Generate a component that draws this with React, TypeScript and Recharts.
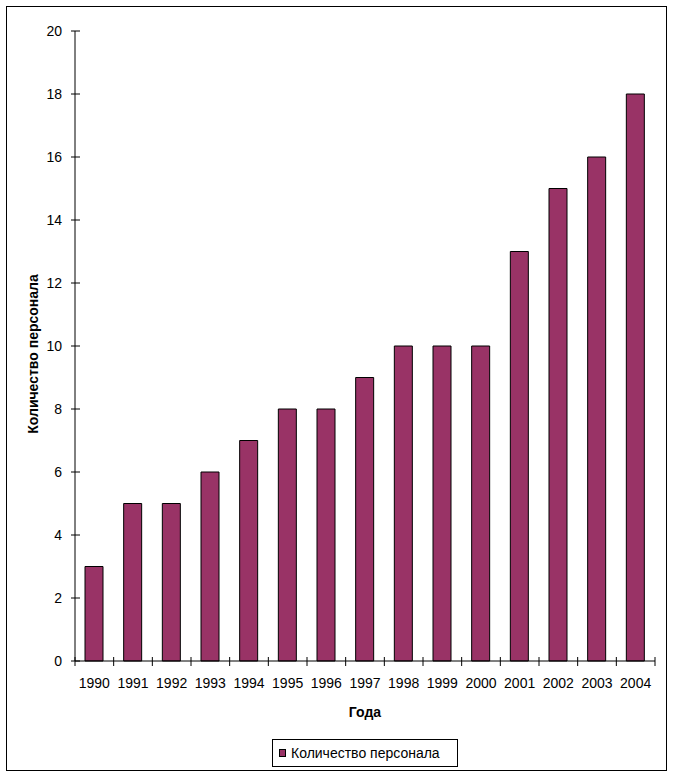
import React from 'react';
import { BarChart, Bar, XAxis, YAxis } from 'recharts';

const years = ['1990', '1991', '1992', '1993', '1994', '1995', '1996', '1997', '1998', '1999', '2000', '2001', '2002', '2003', '2004'];
const staff = [3, 5, 5, 6, 7, 8, 8, 9, 10, 10, 10, 13, 15, 16, 18];
const yTicks = [0, 2, 4, 6, 8, 10, 12, 14, 16, 18, 20];

const seriesName = 'Количество персонала';
const xTitle = 'Года';
const yTitle = 'Количество персонала';

const FONT = '"Liberation Sans", Arial, sans-serif';
const BAR_COLOR = '#993366';

const data = years.map((year, i) => ({ year, value: staff[i] }));

const YTick = (props: any) => {
  const { x, y, payload } = props;
  return (
    <g>
      <line x1={x - 4} x2={x + 5} y1={y} y2={y} stroke="#000" />
      <text x={x - 13} y={y + 5} textAnchor="end" fontSize={14} fontFamily={FONT} fill="#000">
        {payload.value}
      </text>
    </g>
  );
};

const XTick = (props: any) => {
  const { x, y, payload, index } = props;
  const half = payload.offset ?? 580 / years.length / 2;
  return (
    <g>
      <line x1={x - half} x2={x - half} y1={y - 4} y2={y + 5} stroke="#000" />
      {index === years.length - 1 && <line x1={x + half} x2={x + half} y1={y - 4} y2={y + 5} stroke="#000" />}
      <text x={x} y={y + 27} textAnchor="middle" fontSize={14} fontFamily={FONT} fill="#000">
        {payload.value}
      </text>
    </g>
  );
};

export default function App() {
  return (
    <div style={{ position: 'absolute', left: 0, top: 0, width: 674, height: 778, background: '#fff', fontFamily: FONT }}>
      <BarChart
        width={674}
        height={778}
        data={data}
        margin={{ top: 31, right: 19, bottom: 0, left: 0 }}
      >
        <XAxis xAxisId="top" orientation="top" dataKey="year" height={0} tick={false} tickLine={false} axisLine={{ stroke: '#808080' }} />
        <YAxis yAxisId="right" orientation="right" width={0} domain={[0, 20]} tick={false} tickLine={false} axisLine={{ stroke: '#808080' }} />
        <XAxis
          dataKey="year"
          height={117}
          interval={0}
          tickSize={0}
          tickMargin={0}
          tickLine={false}
          axisLine={{ stroke: '#000' }}
          tick={<XTick />}
        />
        <YAxis
          width={75}
          domain={[0, 20]}
          ticks={yTicks}
          interval={0}
          tickSize={0}
          tickMargin={0}
          tickLine={false}
          axisLine={{ stroke: '#000' }}
          tick={<YTick />}
        />
        <Bar dataKey="value" name={seriesName} fill={BAR_COLOR} stroke="#000" strokeWidth={1} barSize={18} isAnimationActive={false} />
      </BarChart>
      <svg width={674} height={778} style={{ position: 'absolute', left: 0, top: 0, pointerEvents: 'none' }}>
        <rect x={6.5} y={6.5} width={660} height={764} fill="none" stroke="#000" strokeWidth={1} />
        <text x={365} y={717} textAnchor="middle" fontSize={14} fontWeight="bold" fontFamily={FONT} fill="#000">
          {xTitle}
        </text>
        <text
          x={0}
          y={0}
          transform="translate(38 354) rotate(-90)"
          textAnchor="middle"
          fontSize={14}
          fontWeight="bold"
          fontFamily={FONT}
          fill="#000"
        >
          {yTitle}
        </text>
        <rect x={272.5} y={739.5} width={185} height={27} fill="#fff" stroke="#000" />
        <rect x={279.5} y={749.5} width={6} height={7} fill={BAR_COLOR} stroke="#000" />
        <text x={291} y={758} fontSize={14} fontFamily={FONT} fill="#000">
          {seriesName}
        </text>
      </svg>
    </div>
  );
}
